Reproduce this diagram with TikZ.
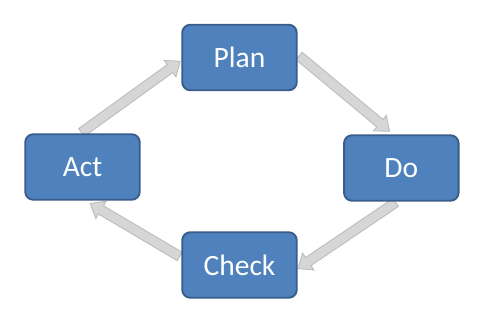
\documentclass[tikz,border=0pt]{standalone}
\usepackage{fontspec}
\setmainfont{Carlito}
\usetikzlibrary{calc,shapes.arrows,backgrounds}
\definecolor{boxfill}{HTML}{4F81BD}
\definecolor{boxline}{HTML}{385D8A}
\definecolor{arrfill}{HTML}{D6D6D6}
\definecolor{arrline}{HTML}{BDBDBD}
\tikzset{
  stagebox/.style={draw=boxline, fill=boxfill, line width=1.9pt, rounded corners=8pt,
    minimum width=114.5pt, minimum height=65.5pt, text=white,
    font=\fontsize{29.5}{31}\selectfont, inner sep=0pt},
  garr/.style={single arrow, draw=arrline, fill=arrfill, line width=0.9pt,
    inner sep=0pt, inner ysep=4.4pt, minimum width=0pt,
    single arrow head extend=5.3pt, single arrow tip angle=78, single arrow head indent=0pt}
}
\newcommand\grayarrow[2]{%
  \path let \p1=(#1), \p2=(#2), \n1={atan2(\y2-\y1,\x2-\x1)}, \n2={veclen(\x2-\x1,\y2-\y1)} in
    node[garr, rotate=\n1, minimum height=\n2] at ($(\p1)!0.5!(\p2)$) {};}
\begin{document}
\begin{tikzpicture}[x=1pt,y=-1pt]
\useasboundingbox (0,0) rectangle (487,334);
\node[stagebox] (plan) at (239.5,57.5) {Plan};
\node[stagebox] (do) at (401.3,168) {Do};
\node[stagebox] (check) at (239.5,265) {Check};
\node[stagebox] (act) at (82.5,167) {Act};
\coordinate (pd1) at ($(plan.east)+(-1,-3.5)$);
\coordinate (pd2) at ($(do.north)+(-14,-5)$);
\coordinate (dc1) at ($(do.south)+(-3,-1)$);
\coordinate (dc2) at ($(check.east)+(2.5,2)$);
\coordinate (ca1) at ($(check.west)+(1,-7)$);
\coordinate (ca2) at ($(act.south)+(10.2,4.3)$);
\coordinate (ap1) at ($(act.north)+(-3.5,1)$);
\coordinate (ap2) at ($(plan.west)+(-3.5,5.5)$);
\begin{scope}[on background layer]
\grayarrow{pd1}{pd2}
\grayarrow{dc1}{dc2}
\grayarrow{ca1}{ca2}
\grayarrow{ap1}{ap2}
\end{scope}
\end{tikzpicture}
\end{document}
